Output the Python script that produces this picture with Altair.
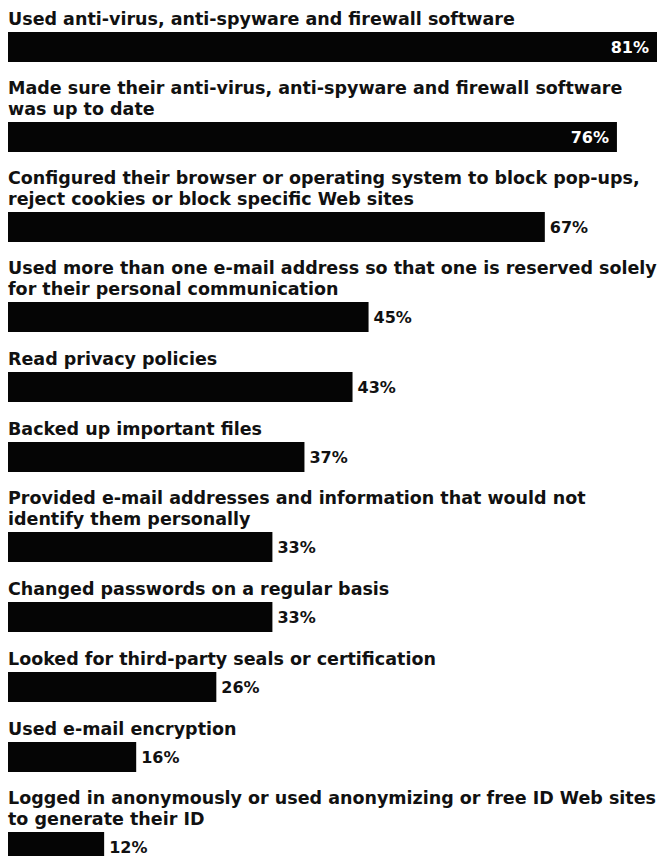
import altair as alt
import pandas as pd

labels = [
    ["Used anti-virus, anti-spyware and firewall software"],
    ["Made sure their anti-virus, anti-spyware and firewall software", "was up to date"],
    ["Configured their browser or operating system to block pop-ups,", "reject cookies or block specific Web sites"],
    ["Used more than one e-mail address so that one is reserved solely", "for their personal communication"],
    ["Read privacy policies"],
    ["Backed up important files"],
    ["Provided e-mail addresses and information that would not", "identify them personally"],
    ["Changed passwords on a regular basis"],
    ["Looked for third-party seals or certification"],
    ["Used e-mail encryption"],
    ["Logged in anonymously or used anonymizing or free ID Web sites", "to generate their ID"],
]
values = [81, 76, 67, 45, 43, 37, 33, 33, 26, 16, 12]
inside = [True, True, False, False, False, False, False, False, False, False, False]

FONT = "DejaVu Sans"
XMAX = 81

panels = []
for i, (lab, v) in enumerate(zip(labels, values)):
    df = pd.DataFrame({"item": [str(i)], "value": [v], "label": [f"{v}%"]})
    base = alt.Chart(df).encode(
        x=alt.X("value:Q", axis=None, scale=alt.Scale(domain=[0, XMAX], nice=False, zero=True)),
        y=alt.Y("item:N", axis=None, scale=alt.Scale(paddingInner=0, paddingOuter=0)),
    )
    bar = base.mark_bar(color="#050505", cornerRadius=0)
    if inside[i]:
        txt = base.mark_text(align="right", baseline="middle", dx=-8, dy=1,
                             color="white", font=FONT, fontWeight="bold", fontSize=16).encode(text="label:N")
    else:
        txt = base.mark_text(align="left", baseline="middle", dx=5, dy=1,
                             color="#111111", font=FONT, fontWeight="bold", fontSize=16).encode(text="label:N")
    panel = alt.layer(bar, txt).properties(
        width=649, height=30,
        title=alt.TitleParams(text=lab, anchor="start", font=FONT, fontSize=17.5, fontWeight="bold",
                              color="#111111", lineHeight=20.5, offset=-10, baseline="alphabetic", frame="group"),
    )
    panels.append(panel)

chart = alt.vconcat(*panels, spacing=18).properties(
    padding={"left": 8, "top": 10, "right": 0, "bottom": 0},
    background="white",
).configure_view(stroke=None, strokeWidth=0)

chart.save("out.html", embed_options={"renderer": "svg", "actions": False})
